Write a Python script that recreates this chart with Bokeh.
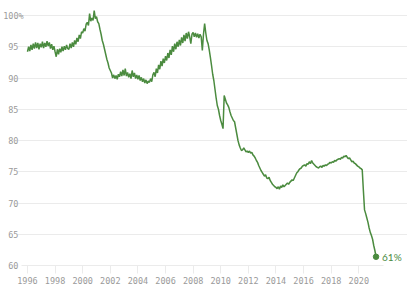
from bokeh.plotting import figure
from bokeh.models import FixedTicker, Label, Grid, Range1d
from bokeh.embed import file_html
from bokeh.resources import INLINE

# Monthly values (percent)
y1996 = [94.2, 95.0, 94.3, 95.3, 94.5, 95.5, 94.7, 95.7, 94.8, 95.6, 94.6, 95.5]
y1997 = [94.9, 95.8, 94.8, 95.6, 95.0, 95.9, 95.1, 95.7, 94.7, 95.4, 94.5, 95.1]
y1998 = [94.2, 93.4, 94.6, 93.8, 94.7, 94.1, 95.0, 94.3, 95.1, 94.5, 95.3, 94.7]
y1999 = [94.6, 95.5, 94.8, 95.7, 95.0, 96.0, 95.4, 96.4, 95.8, 96.9, 96.3, 97.4]
y2000 = [97.2, 97.9, 97.5, 98.6, 98.9, 98.4, 100.3, 99.1, 99.6, 99.2, 100.8, 99.5]
y2001 = [99.8, 99.0, 98.7, 97.8, 97.0, 96.0, 95.4, 94.6, 93.8, 93.0, 92.4, 91.6]
y2002 = [91.2, 90.8, 90.0, 90.5, 89.9, 90.4, 89.8, 90.6, 90.2, 91.0, 90.3, 91.3]
y2003 = [90.4, 91.5, 90.3, 90.9, 90.1, 90.7, 89.9, 91.2, 90.2, 90.8, 89.9, 90.5]
y2004 = [89.8, 90.4, 89.6, 90.1, 89.4, 89.9, 89.2, 89.7, 89.1, 89.5, 89.3, 89.9]
y2005 = [89.4, 90.5, 90.9, 90.2, 91.5, 90.8, 92.1, 91.4, 92.7, 91.9, 93.1, 92.4]
y2006 = [93.5, 92.8, 94.0, 93.2, 94.5, 93.7, 95.1, 94.2, 95.5, 94.6, 95.8, 95.0]
y2007 = [96.1, 95.2, 96.5, 95.6, 96.9, 95.9, 97.2, 96.3, 97.4, 96.6, 95.5, 97.0]
y2008 = [97.3, 96.6, 97.2, 96.5, 97.1, 96.4, 97.0, 96.6, 94.4, 97.0, 98.7, 97.2]
y2009 = [96.0, 95.5, 94.5, 93.3, 92.0, 90.6, 89.6, 88.2, 86.8, 85.6, 85.0, 84.0]
y2010 = [83.2, 82.6, 81.9, 87.2, 86.6, 86.0, 85.7, 85.3, 84.6, 84.0, 83.6, 83.2]
y2011 = [83.0, 82.0, 81.0, 80.0, 79.3, 78.8, 78.4, 78.5, 78.8, 78.5, 78.2, 78.3]
y2012 = [78.1, 78.3, 78.0, 78.1, 77.7, 77.5, 77.2, 76.8, 76.5, 76.0, 75.6, 75.2]
y2013 = [74.9, 74.6, 74.3, 74.5, 74.0, 73.9, 74.1, 73.6, 73.3, 73.0, 72.8, 72.6]
y2014 = [72.5, 72.3, 72.6, 72.2, 72.7, 72.5, 72.9, 72.6, 72.8, 73.0, 73.2, 73.0]
y2015 = [73.3, 73.5, 73.7, 73.6, 74.0, 74.4, 74.8, 75.0, 75.3, 75.5, 75.6, 75.9]
y2016 = [76.0, 76.1, 75.9, 76.3, 76.2, 76.6, 76.3, 76.8, 76.4, 76.2, 76.0, 75.8]
y2017 = [75.7, 75.6, 75.8, 75.9, 75.7, 76.0, 75.9, 76.1, 76.0, 76.2, 76.3, 76.5]
y2018 = [76.4, 76.6, 76.5, 76.8, 76.7, 76.9, 77.0, 77.1, 77.0, 77.3, 77.2, 77.5]
y2019 = [77.4, 77.6, 77.3, 77.1, 77.2, 76.9, 76.6, 76.7, 76.4, 76.3, 76.1, 75.9]
y2020 = [75.8, 75.6, 75.5, 75.3, 72.0, 68.9, 68.3, 67.6, 66.9, 66.0, 65.3, 64.8]
y2021 = [64.2, 63.2, 62.4, 61.4]

x_ticks = [1996, 1998, 2000, 2002, 2004, 2006, 2008, 2010, 2012, 2014, 2016, 2018, 2020]
y_ticks = [60, 65, 70, 75, 80, 85, 90, 95, 100]

series = (y1996 + y1997 + y1998 + y1999 + y2000 + y2001 + y2002 + y2003 + y2004 +
          y2005 + y2006 + y2007 + y2008 + y2009 + y2010 + y2011 + y2012 + y2013 +
          y2014 + y2015 + y2016 + y2017 + y2018 + y2019 + y2020 + y2021)
start_year = 1996
xs = [start_year + i / 12 for i in range(len(series))]

GREEN = "#4b8b3f"
GRID = "#ebebeb"
TEXT = "#9a9a9a"
MONO = "DejaVu Sans Mono"

# grid / axis extent (data) and the wider frame range that leaves room for labels
g0, g1 = 1995.566, 2021.795
PX = 363 / (g1 - g0)           # pixels per year
r0 = g0 - 4 / PX
r1 = g0 + 387 / PX

p = figure(width=407, height=293, output_backend="svg", toolbar_location=None,
           x_range=Range1d(r0, r1), y_range=Range1d(60, 101.6),
           min_border_left=16, min_border_right=0, min_border_top=5, min_border_bottom=28)
p.outline_line_color = None
p.background_fill_color = "white"
p.border_fill_color = "white"

p.xgrid.visible = False
p.ygrid.ticker = FixedTicker(ticks=[t for t in y_ticks if t < 100])
p.ygrid.grid_line_color = GRID
p.ygrid.bounds = (g0, g1)
top_grid = Grid(dimension=1, ticker=FixedTicker(ticks=[100]), bounds=(g0 + 7 / PX, g1),
                grid_line_color=GRID)
p.add_layout(top_grid)

xa = p.xaxis[0]
xa.ticker = FixedTicker(ticks=x_ticks)
xa.bounds = (g0, g1)
xa.axis_line_color = GRID
xa.major_tick_line_color = GRID
xa.major_tick_out = 8
xa.major_tick_in = 0
xa.minor_tick_line_color = None
xa.major_label_standoff = 3
xa.major_label_text_font = MONO
xa.major_label_text_font_size = "8.5px"
xa.major_label_text_color = TEXT

ya = p.yaxis[0]
ya.ticker = FixedTicker(ticks=y_ticks)
ya.axis_line_color = None
ya.major_tick_line_color = None
ya.major_tick_out = 0
ya.major_tick_in = 0
ya.minor_tick_line_color = None
ya.major_label_standoff = -1
ya.major_label_text_font = MONO
ya.major_label_text_font_size = "8.5px"
ya.major_label_text_color = TEXT

pct = Label(x=g0, y=100, x_offset=-3, text="%", text_align="left", text_baseline="middle",
            text_font=MONO, text_font_size="8.5px", text_color=TEXT)
p.add_layout(pct)

p.line(xs, series, line_color=GREEN, line_width=1.5)
p.scatter([xs[-1]], [series[-1]], size=5.5, fill_color=GREEN, line_color=GREEN)

end_label = Label(x=xs[-1], y=series[-1], x_offset=6, text=f"{round(series[-1])}%",
                  text_align="left", text_baseline="middle", text_font="Lato",
                  text_font_size="10px", text_color=GREEN)
p.add_layout(end_label)

open("out.html", "w").write(file_html(p, INLINE))
